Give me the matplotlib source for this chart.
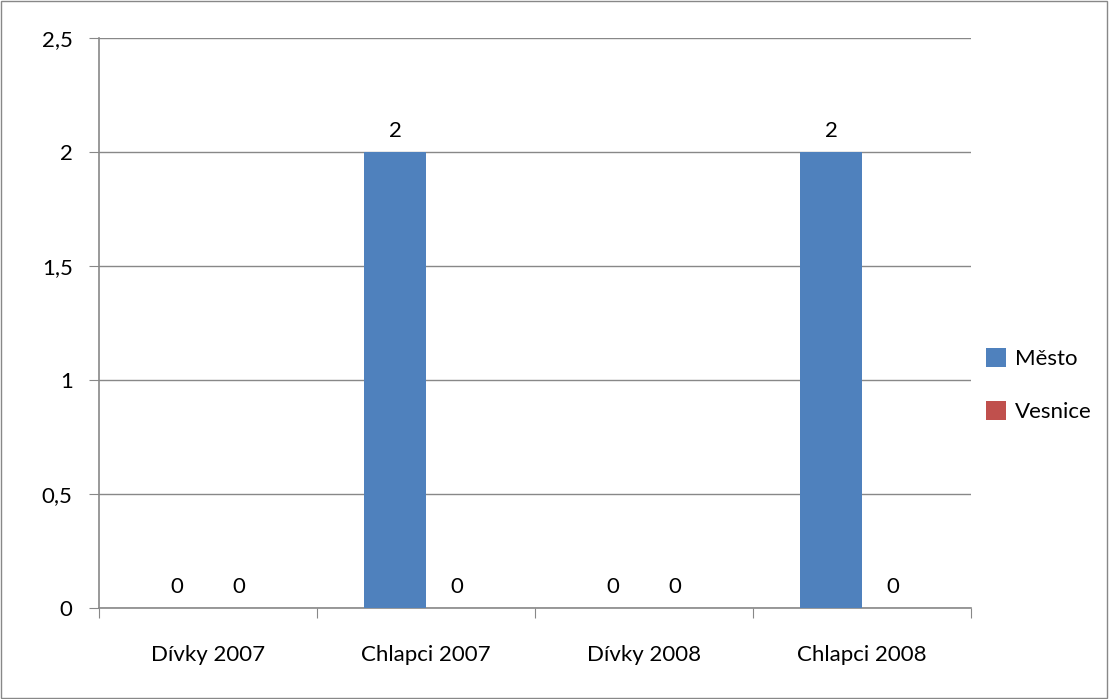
import matplotlib.pyplot as plt
import numpy as np
from matplotlib.patches import Rectangle

plt.rcParams['font.family'] = ['Lato', 'DejaVu Sans']

categories = ['Dívky 2007', 'Chlapci 2007', 'Dívky 2008', 'Chlapci 2008']
mesto = [0, 2, 0, 2]
vesnice = [0, 0, 0, 0]
y_ticks = [0, 0.5, 1, 1.5, 2, 2.5]
y_labels = ['0', '0,5', '1', '1,5', '2', '2,5']

fs = 16

fig = plt.figure(figsize=(11.09, 6.99), dpi=100)
fig.patches.append(Rectangle((0.0005, 0.0008), 0.998, 0.998, transform=fig.transFigure,
                             fill=False, edgecolor='#888888', linewidth=1))
ax = fig.add_axes([0.0893, 0.1302, 0.7863, 0.8154])

x = np.arange(len(categories))
w = 0.284
b1 = ax.bar(x - w / 2, mesto, w, color='#4f81bd', label='Město', zorder=3)
b2 = ax.bar(x + w / 2, vesnice, w, color='#c0504d', label='Vesnice', zorder=3)

for bars, vals in ((b1, mesto), (b2, vesnice)):
    for r, v in zip(bars, vals):
        ax.text(r.get_x() + r.get_width() / 2, v + 0.05, str(v), ha='center', va='bottom',
                fontsize=fs)

ax.set_xlim(-0.5, len(categories) - 0.5)
ax.set_ylim(0, 2.5)
ax.set_yticks(y_ticks)
ax.set_yticklabels(y_labels, fontsize=fs)
ax.set_xticks(np.arange(-0.5, len(categories), 1))
ax.set_xticklabels([])
ax.set_xticks(x, minor=True)
ax.set_xticklabels(categories, minor=True, fontsize=fs)
ax.tick_params(axis='x', which='minor', length=0, pad=27)
ax.tick_params(axis='x', which='major', length=7, color='#888888')
ax.tick_params(axis='y', length=7, color='#888888', pad=12)

ax.grid(axis='y', color='#888888', linewidth=1, zorder=0)
for s in ['top', 'right']:
    ax.spines[s].set_visible(False)
for s in ['left', 'bottom']:
    ax.spines[s].set_color('#888888')
    ax.spines[s].set_linewidth(1.2)

fig.legend(handles=[b1, b2], loc='center left', bbox_to_anchor=(0.889, 0.449),
           frameon=False, fontsize=fs, handlelength=0.9, handleheight=0.9,
           handletextpad=0.4, labelspacing=1.45, borderpad=0, borderaxespad=0)

fig.savefig('out.png', dpi=100)
